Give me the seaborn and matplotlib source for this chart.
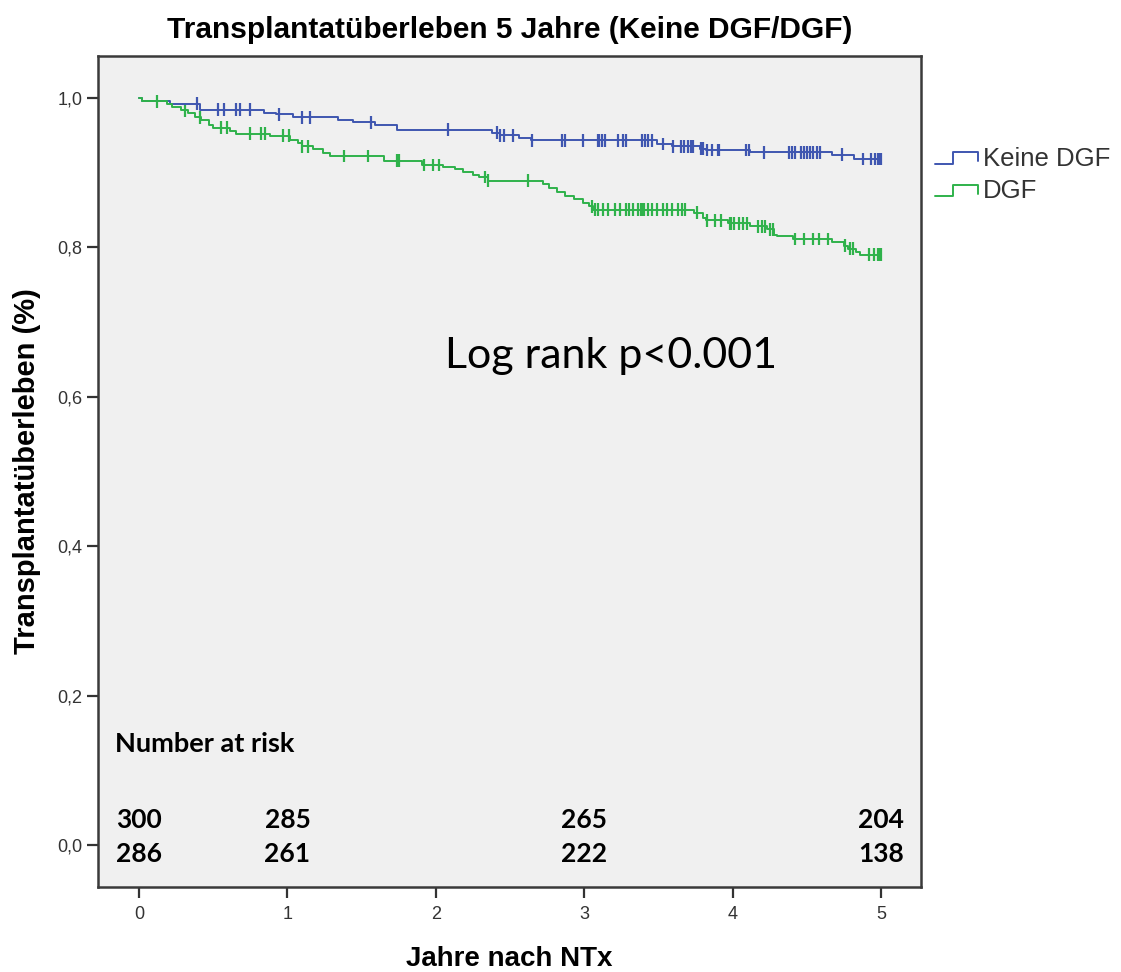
import numpy as np
import pandas as pd
import seaborn as sns
import matplotlib.pyplot as plt
from matplotlib.lines import Line2D
from matplotlib.legend_handler import HandlerBase

# Kaplan-Meier Stufen (Zeit in Jahren, Überleben nach der Stufe)
keine_dgf_t = [0.02, 0.21, 0.41, 0.84, 0.92, 1.04, 1.34, 1.44, 1.59, 1.74, 2.38, 2.43,
               2.56, 2.64, 3.49, 3.59, 3.78, 3.82, 4.12, 4.67, 4.82]
keine_dgf_s = [0.995, 0.992, 0.984, 0.980, 0.978, 0.974, 0.970, 0.967, 0.963, 0.957, 0.953,
               0.950, 0.946, 0.943, 0.938, 0.935, 0.932, 0.930, 0.927, 0.924, 0.918]
keine_dgf_zensiert = [0.39, 0.53, 0.57, 0.65, 0.68, 0.75, 0.94, 1.10, 1.15, 1.56, 2.08, 2.41,
                      2.43, 2.46, 2.52, 2.65, 2.85, 2.87, 2.99, 3.09, 3.10, 3.12, 3.14, 3.23,
                      3.26, 3.28, 3.39, 3.41, 3.43, 3.46, 3.53, 3.60, 3.65, 3.67, 3.70, 3.72,
                      3.73, 3.79, 3.80, 3.83, 3.86, 3.90, 3.91, 4.09, 4.11, 4.21, 4.38, 4.40,
                      4.42, 4.46, 4.48, 4.50, 4.52, 4.54, 4.57, 4.59, 4.74, 4.88, 4.93, 4.96,
                      4.98, 4.99, 5.00]

dgf_t = [0.02, 0.19, 0.22, 0.28, 0.33, 0.38, 0.42, 0.47, 0.50, 0.61, 0.65, 0.88, 1.02, 1.07,
         1.10, 1.17, 1.24, 1.29, 1.65, 1.91, 2.05, 2.13, 2.18, 2.25, 2.29, 2.35, 2.72, 2.76,
         2.82, 2.87, 2.93, 2.99, 3.03, 3.06, 3.74, 3.80, 3.82, 3.97, 4.12, 4.23, 4.28, 4.30,
         4.41, 4.67, 4.75, 4.78, 4.83, 4.86]
dgf_s = [0.995, 0.991, 0.987, 0.983, 0.979, 0.974, 0.970, 0.964, 0.960, 0.956, 0.952, 0.949,
         0.944, 0.940, 0.935, 0.931, 0.926, 0.922, 0.916, 0.910, 0.907, 0.904, 0.900, 0.897,
         0.894, 0.889, 0.884, 0.879, 0.874, 0.868, 0.864, 0.859, 0.855, 0.850, 0.846, 0.839,
         0.836, 0.832, 0.828, 0.824, 0.817, 0.815, 0.811, 0.807, 0.802, 0.798, 0.793, 0.790]
dgf_zensiert = [0.12, 0.31, 0.41, 0.55, 0.59, 0.75, 0.82, 0.85, 0.97, 1.01, 1.10, 1.14, 1.38,
                1.54, 1.74, 1.75, 1.92, 1.98, 2.02, 2.33, 2.35, 2.62, 3.05, 3.07, 3.09, 3.13,
                3.16, 3.21, 3.24, 3.28, 3.30, 3.33, 3.36, 3.38, 3.39, 3.40, 3.43, 3.46, 3.49,
                3.53, 3.56, 3.59, 3.63, 3.66, 3.68, 3.76, 3.83, 3.88, 3.92, 3.98, 3.99, 4.01,
                4.04, 4.07, 4.10, 4.17, 4.20, 4.22, 4.25, 4.27, 4.42, 4.48, 4.54, 4.58, 4.64,
                4.76, 4.79, 4.81, 4.92, 4.95, 4.98, 4.99, 5.00]

gruppen = ['Keine DGF', 'DGF']
farben = {'Keine DGF': '#3f56b0', 'DGF': '#2fb24b'}

# Number at risk
risk_jahre = [0, 1, 3, 5]
risk_keine_dgf = [300, 285, 265, 204]
risk_dgf = [286, 261, 222, 138]


def km_tabellen(name, zeiten, surv, zensiert):
    t = [0.0] + list(zeiten) + [max(zensiert)]
    s = [1.0] + list(surv) + [surv[-1]]
    kurve = pd.DataFrame({'Jahre': t, 'Ueberleben': s, 'Gruppe': name})
    idx = np.searchsorted(np.array(t[:-1]), zensiert, side='right') - 1
    marken = pd.DataFrame({'Jahre': zensiert, 'Ueberleben': np.array(s)[idx], 'Gruppe': name})
    return kurve, marken


k1, m1 = km_tabellen('Keine DGF', keine_dgf_t, keine_dgf_s, keine_dgf_zensiert)
k2, m2 = km_tabellen('DGF', dgf_t, dgf_s, dgf_zensiert)
kurven = pd.concat([k1, k2], ignore_index=True)
marken = pd.concat([m1, m2], ignore_index=True)


class StufenHandler(HandlerBase):
    # Legendensymbol als kleine Treppe wie bei SPSS
    def create_artists(self, legend, orig_handle, xdescent, ydescent, width, height, fontsize, trans):
        x0 = -xdescent
        y0 = -ydescent
        xs = [x0, x0 + 0.42 * width, x0 + 0.42 * width, x0 + width, x0 + width]
        ys = [y0 + 0.1 * height, y0 + 0.1 * height, y0 + 0.75 * height, y0 + 0.75 * height, y0 + 0.25 * height]
        line = Line2D(xs, ys, color=orig_handle.get_color(), lw=1.4, transform=trans)
        return [line]


sns.set_style('white')
plt.rcParams['font.family'] = ['Liberation Sans', 'DejaVu Sans']

fig = plt.figure(figsize=(11.21, 9.72), dpi=100)
ax = fig.add_axes([0.0874, 0.0875, 0.7342, 0.855])
ax.set_facecolor('#f0f0f0')

sns.lineplot(data=kurven, x='Jahre', y='Ueberleben', hue='Gruppe', hue_order=gruppen,
             palette=farben, estimator=None, drawstyle='steps-post', lw=1.4,
             legend=False, ax=ax)
sns.scatterplot(data=marken, x='Jahre', y='Ueberleben', hue='Gruppe', hue_order=gruppen,
                palette=farben, marker='|', s=85, linewidth=1.6, legend=False, ax=ax)

ax.set_xlim(-0.277, 5.27)
ax.set_ylim(-0.056, 1.056)
ax.set_xticks(range(6))
ax.set_yticks([0, 0.2, 0.4, 0.6, 0.8, 1.0])
ax.set_yticklabels(['0,0', '0,2', '0,4', '0,6', '0,8', '1,0'])
ax.tick_params(axis='both', direction='out', length=8, width=1.6, color='#333333',
               labelsize=13, labelcolor='#333333', left=True, bottom=True)
ax.tick_params(axis='x', pad=6)
ax.tick_params(axis='y', pad=3)
for sp in ax.spines.values():
    sp.set_visible(True)
    sp.set_color('#3a3a3a')
    sp.set_linewidth(1.8)

ax.set_title('Transplantatüberleben 5 Jahre (Keine DGF/DGF)', fontsize=21.5,
             fontweight='bold', pad=13, color='black')
ax.set_xlabel('Jahre nach NTx', fontsize=20, fontweight='bold', color='black')
ax.set_ylabel('Transplantatüberleben (%)', fontsize=21, fontweight='bold', color='black')
ax.xaxis.set_label_coords(0.5, -0.071)
ax.yaxis.set_label_coords(-0.069, 0.5)

ax.text(2.063, 0.655, 'Log rank p<0.001', fontsize=31, family=['Lato', 'DejaVu Sans'],
        ha='left', va='center', color='black')
ax.text(-0.165, 0.135, 'Number at risk', fontsize=19.5, fontweight='bold',
        family=['Lato', 'DejaVu Sans'], ha='left', va='center', color='black')
for j, a, b in zip(risk_jahre, risk_keine_dgf, risk_dgf):
    ax.text(j, 0.033, str(a), fontsize=19, fontweight='bold', family=['Lato', 'DejaVu Sans'],
            ha='center', va='center', color='black')
    ax.text(j, -0.012, str(b), fontsize=19, fontweight='bold', family=['Lato', 'DejaVu Sans'],
            ha='center', va='center', color='black')

handles = [Line2D([], [], color=farben[g]) for g in gruppen]
ax.legend(handles, gruppen, handler_map={Line2D: StufenHandler()}, loc='upper left',
          bbox_to_anchor=(1.005, 0.903), frameon=False, fontsize=18.5,
          handlelength=1.65, handletextpad=0.2, labelspacing=0.32, borderaxespad=0,
          labelcolor='#333333')

fig.savefig('out.png', dpi=100, facecolor='white')
